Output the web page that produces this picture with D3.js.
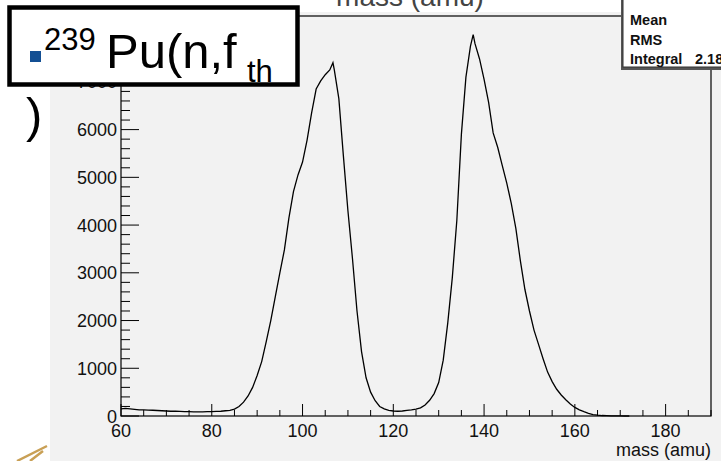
<!DOCTYPE html>
<html>
<head>
<meta charset="utf-8">
<script src="https://cdn.jsdelivr.net/npm/d3@7"></script>
<style>
  body { margin: 0; background: #fff; }
  svg { display: block; font-family: "Liberation Sans", Arial, sans-serif; }
</style>
</head>
<body>
<div id="chart"></div>
<script>
// fission fragment mass yield
var mass = [60, 61, 62, 63, 64, 65, 66, 67, 68, 69, 70, 71, 72, 73, 74, 75, 76, 77, 78, 79,
  80, 81, 82, 83, 84, 85, 86, 87, 88, 89, 90, 91, 92, 93, 94, 95, 96, 97, 98, 99,
  100, 101, 102, 103, 104, 105, 106, 106.7, 107, 108, 109, 110, 111, 112, 113, 114, 115, 116, 117, 118, 119,
  120, 121, 122, 123, 124, 125, 126, 127, 128, 129, 130, 131, 132, 133, 134, 135, 136, 137, 137.6, 138, 139,
  140, 141, 142, 143, 144, 145, 146, 147, 148, 149, 150, 151, 152, 153, 154, 155, 156, 157, 158, 159,
  160, 161, 162, 163, 164, 165, 166, 167, 168, 169, 170, 171, 172];
var counts = [150, 160, 150, 140, 130, 130, 125, 120, 115, 110, 105, 100, 100, 95, 90, 90, 85, 85, 85, 90,
  90, 95, 100, 110, 120, 145, 200, 290, 420, 600, 850, 1140, 1560, 2000, 2500, 3000, 3480, 4150, 4700, 5050,
  5320, 5780, 6350, 6850, 7020, 7150, 7250, 7400, 7250, 6650, 5450, 4300, 3300, 2200, 1350, 800, 500, 320, 200, 150, 120,
  105, 100, 105, 120, 130, 145, 170, 230, 330, 470, 700, 1170, 1950, 2900, 4100, 5900, 7100, 7750, 7990, 7800, 7480,
  7050, 6570, 5930, 5630, 5250, 4880, 4450, 3930, 3250, 2650, 2200, 1800, 1500, 1200, 920, 720, 560, 440, 340, 250,
  180, 130, 90, 55, 30, 18, 10, 6, 3, 2, 1, 0, 0];

var xMajor = [60, 80, 100, 120, 140, 160, 180];
var yMajor = [0, 1000, 2000, 3000, 4000, 5000, 6000, 7000, 8000];
var statNames = ["Mean", "RMS", "Integral"];
var statValues = ["", "", "2.18"];

var W = 721, H = 461;
var frame = { left: 121, right: 711, top: 16, bottom: 416 };

var svg = d3.select("#chart").append("svg")
  .attr("width", W)
  .attr("height", H);

// grey pad
svg.append("rect")
  .attr("x", 50).attr("y", 12)
  .attr("width", W - 50).attr("height", H - 12)
  .attr("fill", "#f2f2f2");

var x = d3.scaleLinear().domain([60, 190]).range([frame.left, frame.right]);
var y = d3.scaleLinear().domain([0, 8380]).range([frame.bottom, frame.top]);

// frame
svg.append("rect")
  .attr("x", frame.left).attr("y", frame.top)
  .attr("width", frame.right - frame.left)
  .attr("height", frame.bottom - frame.top)
  .attr("fill", "none")
  .attr("stroke", "#000")
  .attr("stroke-width", 1.2);

// x axis ticks (pointing up into the frame)
var xMinor = d3.range(60, 191, 5);
svg.append("g").selectAll("line")
  .data(xMinor)
  .enter().append("line")
  .attr("x1", function(d) { return x(d); })
  .attr("x2", function(d) { return x(d); })
  .attr("y1", frame.bottom)
  .attr("y2", function(d) { return xMajor.indexOf(d) >= 0 ? frame.bottom - 12 : frame.bottom - 6; })
  .attr("stroke", "#000");

svg.append("g").selectAll("text")
  .data(xMajor)
  .enter().append("text")
  .attr("x", function(d) { return x(d); })
  .attr("y", 437)
  .attr("text-anchor", "middle")
  .attr("font-size", 18)
  .attr("fill", "#111")
  .text(function(d) { return d; });

// y axis ticks (pointing right into the frame)
var yMinor = d3.range(0, 8380, 200);
svg.append("g").selectAll("line")
  .data(yMinor)
  .enter().append("line")
  .attr("x1", frame.left)
  .attr("x2", function(d) { return d % 1000 === 0 ? frame.left + 18 : frame.left + 9; })
  .attr("y1", function(d) { return y(d); })
  .attr("y2", function(d) { return y(d); })
  .attr("stroke", "#000");

svg.append("g").selectAll("text")
  .data(yMajor)
  .enter().append("text")
  .attr("x", 117)
  .attr("y", function(d) { return y(d) + 6.5; })
  .attr("text-anchor", "end")
  .attr("font-size", 18)
  .attr("fill", "#111")
  .text(function(d) { return d; });

// axis title
svg.append("text")
  .attr("x", 711)
  .attr("y", 456)
  .attr("text-anchor", "end")
  .attr("font-size", 18)
  .attr("fill", "#111")
  .text("mass (amu)");

// histogram outline
var line = d3.line()
  .x(function(d, i) { return x(mass[i]); })
  .y(function(d) { return y(d); });

svg.append("path")
  .datum(counts)
  .attr("d", line)
  .attr("fill", "none")
  .attr("stroke", "#000")
  .attr("stroke-width", 1.3);

// white strip on top with the cut-off title
svg.append("rect")
  .attr("x", 300).attr("y", 0)
  .attr("width", W - 300).attr("height", 12)
  .attr("fill", "#fff");
svg.append("text")
  .attr("x", 410)
  .attr("y", 6)
  .attr("text-anchor", "middle")
  .attr("font-size", 28)
  .attr("fill", "#444")
  .text("mass (amu)");

// stats box
svg.append("rect")
  .attr("x", 621).attr("y", -10)
  .attr("width", 110).attr("height", 80)
  .attr("fill", "#555");
svg.append("rect")
  .attr("x", 623).attr("y", -10)
  .attr("width", 110).attr("height", 77)
  .attr("fill", "#fff")
  .attr("stroke", "#333")
  .attr("stroke-width", 1);

svg.append("g").selectAll("text")
  .data(statNames)
  .enter().append("text")
  .attr("x", 630)
  .attr("y", function(d, i) { return 25 + i * 19.5; })
  .attr("font-size", 14.5)
  .attr("font-weight", "bold")
  .attr("fill", "#111")
  .text(function(d) { return d; });

svg.append("g").selectAll("text")
  .data(statValues)
  .enter().append("text")
  .attr("x", 695)
  .attr("y", function(d, i) { return 25 + i * 19.5; })
  .attr("font-size", 14.5)
  .attr("font-weight", "bold")
  .attr("fill", "#111")
  .text(function(d) { return d; });

// overlaid label box
svg.append("rect")
  .attr("x", 9.5).attr("y", 7.5)
  .attr("width", 288).attr("height", 77)
  .attr("fill", "#fff")
  .attr("stroke", "#000")
  .attr("stroke-width", 4.5);

svg.append("rect")
  .attr("x", 30).attr("y", 51)
  .attr("width", 11).attr("height", 11)
  .attr("fill", "#134f93");

var label = svg.append("text")
  .attr("fill", "#000");
label.append("tspan").attr("x", 44).attr("y", 50).attr("font-size", 31).text("239");
label.append("tspan").attr("x", 106).attr("y", 68).attr("font-size", 49).text("Pu(n,f");
label.append("tspan").attr("x", 247).attr("y", 82).attr("font-size", 31).text("th");

svg.append("text")
  .attr("x", 26)
  .attr("y", 132)
  .attr("font-size", 49)
  .attr("fill", "#000")
  .text(")");

// stray decoration in the corner
svg.append("path")
  .attr("d", "M17,461 L47,446 M30,461 L43,451")
  .attr("stroke", "#c9a055")
  .attr("stroke-width", 2.5)
  .attr("fill", "none");
</script>
</body>
</html>
